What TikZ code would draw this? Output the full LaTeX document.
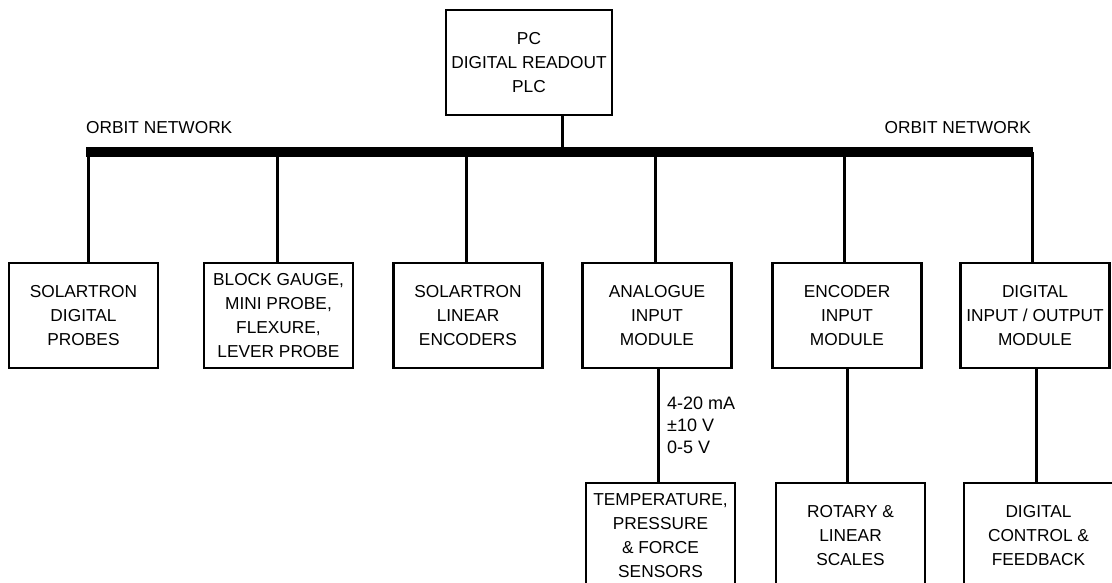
\documentclass[tikz,border=0pt]{standalone}
\usepackage{fontspec}
\setmainfont{Liberation Sans}
\usetikzlibrary{positioning}

\begin{document}
\begin{tikzpicture}[
    x=1pt, y=-1pt,
    font=\fontsize{17.3}{24}\selectfont,
    unit/.style={draw, line width=2.8pt, minimum width=149pt,
                 minimum height=105pt, inner sep=0pt, align=center},
    bus/.style={line width=10pt},
    wire/.style={line width=3pt},
    tag/.style={inner sep=0pt, anchor=base west},
  ]
  \useasboundingbox (0,0) rectangle (1112,583);

  % host
  \node[unit, minimum width=166pt] (host) at (529,62.5) {PC\\DIGITAL READOUT\\PLC};

  % network bus
  \coordinate (busL) at (86,152);
  \coordinate (busR) at (1033,152);
  \coordinate (tap0) at (562,152);
  \draw[bus] (busL) -- (busR);
  \draw[wire] (tap0 |- host.south) -- (tap0);
  \node[tag] (netL) at (86,134) {ORBIT NETWORK};
  \node[tag, anchor=base east] (netR) at (1031,134) {ORBIT NETWORK};

  % modules on the bus
  \node[unit] (probes)  at (83.5,315.5) {SOLARTRON\\DIGITAL\\PROBES};
  \node[unit] (gauge)   at (278.5,315.5) {BLOCK GAUGE,\\MINI PROBE,\\FLEXURE,\\LEVER PROBE};
  \node[unit] (linear)  at (468,315.5)  {SOLARTRON\\LINEAR\\ENCODERS};
  \node[unit] (analog)  at (657,315.5)  {ANALOGUE\\INPUT\\MODULE};
  \node[unit] (encoder) at (847,315.5)  {ENCODER\\INPUT\\MODULE};
  \node[unit] (dio)     at (1035,315.5) {DIGITAL\\INPUT / OUTPUT\\MODULE};

  \foreach \x/\m in {88/probes, 277/gauge, 466/linear, 655/analog, 844/encoder, 1032/dio} {
    \coordinate (t) at (\x,152);
    \draw[wire] (t) -- (t |- \m.north);
  }

  % devices below
  \node[unit] (sensors) at (660.5,535.5) {TEMPERATURE,\\PRESSURE\\\& FORCE\\SENSORS};
  \node[unit] (scales)  at (850.5,535.5) {ROTARY \&\\LINEAR\\SCALES};
  \node[unit] (control) at (1038.5,535.5) {DIGITAL\\CONTROL \&\\FEEDBACK};

  \draw[wire] ([xshift=1pt]analog.south) -- ([xshift=1pt]analog.south |- sensors.north);
  \draw[wire] (encoder.south) -- (encoder.south |- scales.north);
  \draw[wire] ([xshift=1pt]dio.south) -- ([xshift=1pt]dio.south |- control.north);

  % signal types
  \node[inner sep=0pt, anchor=west, align=left, font=\fontsize{18}{22}\selectfont]
    (signals) at (667,425) {4-20 mA\\±10 V\\0-5 V};
\end{tikzpicture}
\end{document}
